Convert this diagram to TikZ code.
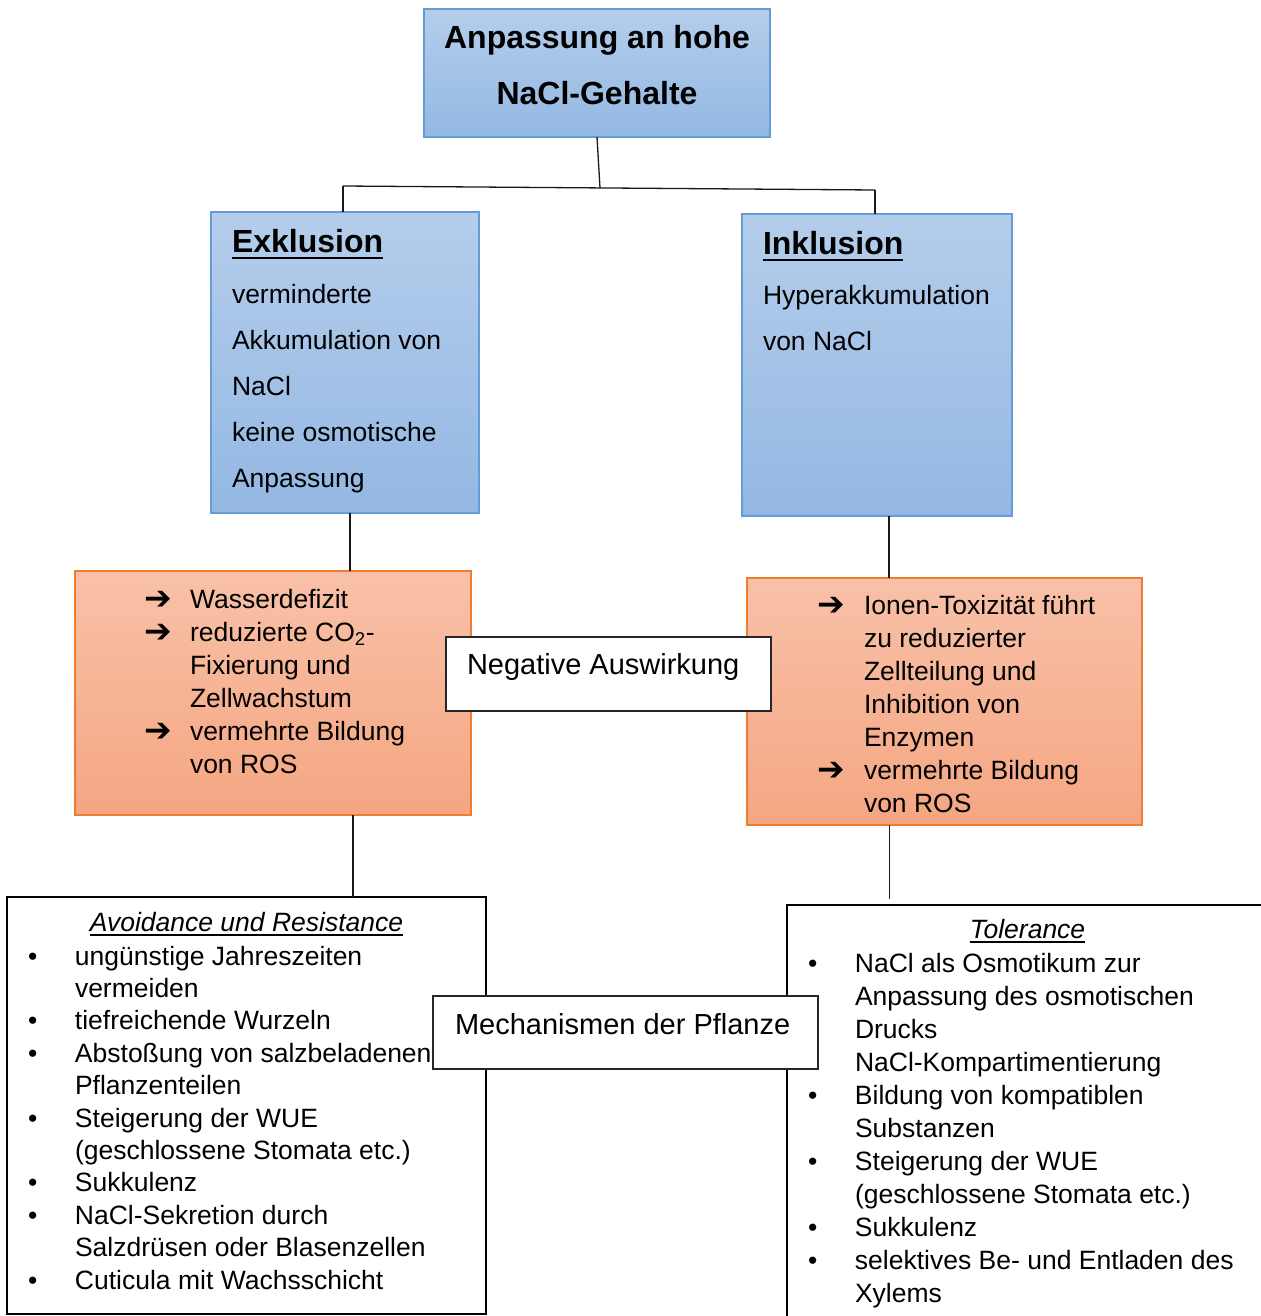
\documentclass[tikz,border=0pt]{standalone}
\usepackage{fontspec}
\setmainfont{Liberation Sans}
\newfontfamily\symfont{DejaVu Sans}
\usetikzlibrary{positioning}

\definecolor{blueTop}{RGB}{180,205,235}
\definecolor{blueBot}{RGB}{148,184,227}
\definecolor{blueEdge}{RGB}{100,156,215}
\definecolor{orangeTop}{RGB}{248,193,168}
\definecolor{orangeBot}{RGB}{245,166,130}
\definecolor{orangeEdge}{RGB}{237,125,49}

\newcommand{\arrsym}{{\symfont\fontsize{33}{33}\selectfont\raisebox{-1pt}{➔}}}
\newcommand{\bul}{•}
\newcommand{\headline}[1]{\setbox0=\hbox{#1}\rlap{\rule[-7pt]{\wd0}{2.5pt}}\box0}
\newcommand{\subhead}[1]{\setbox0=\hbox{\itshape #1}\rlap{\rule[-5pt]{\wd0}{2pt}}\box0}

\begin{document}
\begin{tikzpicture}[
    x=1pt, y=-1pt,
    box/.style={rectangle, anchor=north west, inner sep=0pt, outer sep=0pt},
    bluebox/.style={box, draw=blueEdge, line width=1.2pt, top color=blueTop, bottom color=blueBot},
    orangebox/.style={box, draw=orangeEdge, line width=1.2pt, top color=orangeTop, bottom color=orangeBot},
    framebox/.style={box, draw=black, line width=1.8pt, fill=white},
    labelbox/.style={box, draw=black!85, line width=2pt, fill=white},
    txt/.style={inner sep=0pt, outer sep=0pt, font=\fontsize{26.5}{33}\selectfont},
    link/.style={draw=black!90, line width=1.3pt}
]
\useasboundingbox (0,0) rectangle (1260,1316);
\fill[white] (0,0) rectangle (1260,1316);

% Top level
\node[bluebox, minimum width=346pt, minimum height=128pt] (title) at (424,9) {};
\node[txt, font=\fontsize{32}{56}\selectfont\bfseries, below=40pt of title.north, anchor=base] (titletext)
    {\begin{tabular}[t]{@{}c@{}}Anpassung an hohe\\NaCl-Gehalte\end{tabular}};

% Strategies
\node[bluebox, minimum width=268pt, minimum height=301pt] (exkl) at (211,212) {};
\node[txt, font=\fontsize{32}{40}\selectfont\bfseries, below right=40pt and 21pt of exkl.north west, anchor=base west] (exklhead) {\headline{Exklusion}};
\node[txt, font=\fontsize{26.5}{46}\selectfont, below right=91pt and 21pt of exkl.north west, anchor=base west] (exklbody)
    {\begin{tabular}[t]{@{}l@{}}verminderte\\Akkumulation von\\NaCl\\keine osmotische\\Anpassung\end{tabular}};

\node[bluebox, minimum width=270pt, minimum height=302pt] (inkl) at (742,214) {};
\node[txt, font=\fontsize{32}{40}\selectfont\bfseries, below right=40pt and 21pt of inkl.north west, anchor=base west] (inklhead) {\headline{Inklusion}};
\node[txt, font=\fontsize{26.5}{46}\selectfont, below right=90pt and 21pt of inkl.north west, anchor=base west] (inklbody)
    {\begin{tabular}[t]{@{}l@{}}Hyperakkumulation\\von NaCl\end{tabular}};

% Negative effects
\node[orangebox, minimum width=396pt, minimum height=244pt] (effL) at (75,571) {};
\node[txt, below right=37pt and 69pt of effL.north west, anchor=base west] (effLtext)
    {\begin{tabular}[t]{@{}p{46pt}@{}l@{}}
    \arrsym & Wasserdefizit\\
    \arrsym & reduzierte CO\textsubscript{2}-\\
            & Fixierung und\\
            & Zellwachstum\\
    \arrsym & vermehrte Bildung\\
            & von ROS
    \end{tabular}};

\node[orangebox, minimum width=395pt, minimum height=247pt] (effR) at (747,578) {};
\node[txt, below right=36pt and 70pt of effR.north west, anchor=base west] (effRtext)
    {\begin{tabular}[t]{@{}p{47pt}@{}l@{}}
    \arrsym & Ionen-Toxizität führt\\
            & zu reduzierter\\
            & Zellteilung und\\
            & Inhibition von\\
            & Enzymen\\
    \arrsym & vermehrte Bildung\\
            & von ROS
    \end{tabular}};

% Mechanisms
\node[framebox, minimum width=479pt, minimum height=417pt] (mechL) at (7,897) {};
\node[txt, below=34pt of mechL.north, anchor=base] (mechLhead) {\subhead{Avoidance und Resistance}};
\node[txt, font=\fontsize{26.5}{32.4}\selectfont, below right=68pt and 21pt of mechL.north west, anchor=base west] (mechLtext)
    {\begin{tabular}[t]{@{}p{47pt}@{}l@{}}
    \bul & ungünstige Jahreszeiten\\
         & vermeiden\\
    \bul & tiefreichende Wurzeln\\
    \bul & Abstoßung von salzbeladenen\\
         & Pflanzenteilen\\
    \bul & Steigerung der WUE\\
         & (geschlossene Stomata etc.)\\
    \bul & Sukkulenz\\
    \bul & NaCl-Sekretion durch\\
         & Salzdrüsen oder Blasenzellen\\
    \bul & Cuticula mit Wachsschicht
    \end{tabular}};

\node[framebox, minimum width=481pt, minimum height=450pt] (mechR) at (787,905) {};
\node[txt, below=33pt of mechR.north, anchor=base] (mechRhead) {\subhead{Tolerance}};
\node[txt, below right=67pt and 21pt of mechR.north west, anchor=base west] (mechRtext)
    {\begin{tabular}[t]{@{}p{47pt}@{}l@{}}
    \bul & NaCl als Osmotikum zur\\
         & Anpassung des osmotischen\\
         & Drucks\\
         & NaCl-Kompartimentierung\\
    \bul & Bildung von kompatiblen\\
         & Substanzen\\
    \bul & Steigerung der WUE\\
         & (geschlossene Stomata etc.)\\
    \bul & Sukkulenz\\
    \bul & selektives Be- und Entladen des\\
         & Xylems
    \end{tabular}};

% Connectors
\coordinate (barL) at (343,186);
\coordinate (barM) at (600,188);
\coordinate (barR) at (875,190);
\draw[link] (title.south) -- (barM);
\draw[link] (barL) -- (barR);
\draw[link] (barL) -- (barL |- exkl.north);
\draw[link] (barR) -- (barR |- inkl.north);
\draw[link] ([xshift=5pt]exkl.south) -- ([xshift=5pt]exkl.south |- effL.north);
\draw[link] ([xshift=12pt]inkl.south) -- ([xshift=12pt]inkl.south |- effR.north);
\draw[link] ([xshift=80pt]effL.south) -- ([xshift=80pt]effL.south |- mechL.north);
\draw[link, shorten >=6pt] ([xshift=-55pt]effR.south) -- ([xshift=-55pt]effR.south |- mechR.north);

% Labels
\node[labelbox, minimum width=325pt, minimum height=74pt] (neg) at (446,637) {};
\node[txt, font=\fontsize{29}{35}\selectfont, below right=37pt and 21pt of neg.north west, anchor=base west] (negtext) {Negative Auswirkung};

\node[labelbox, minimum width=385pt, minimum height=73pt] (mech) at (433,996) {};
\node[txt, font=\fontsize{29}{35}\selectfont, below right=38pt and 22pt of mech.north west, anchor=base west] (mechtext) {Mechanismen der Pflanze};

\end{tikzpicture}
\end{document}
